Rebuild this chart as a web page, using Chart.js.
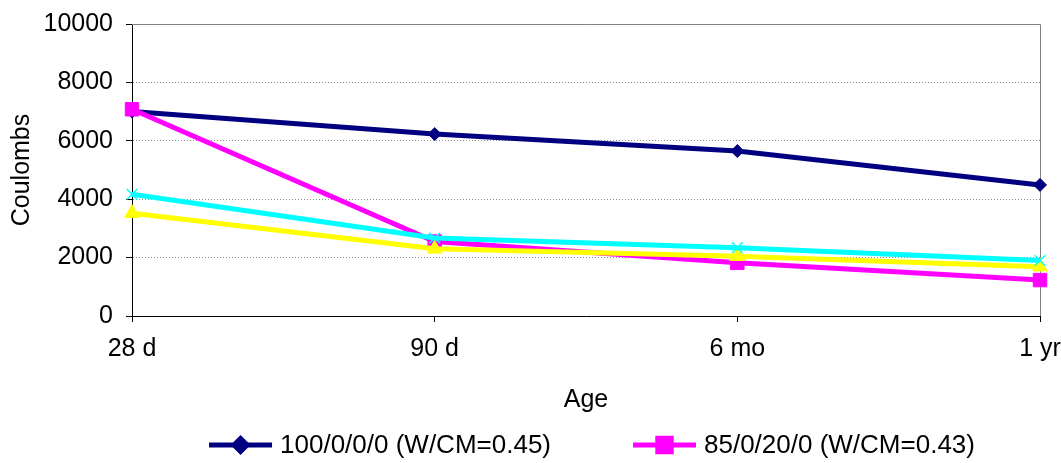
<!DOCTYPE html>
<html>
<head>
<meta charset="utf-8">
<script src="https://cdn.jsdelivr.net/npm/chart.js@4"></script>
<style>
    html, body { margin: 0; padding: 0; background: #fff; }
    #wrap { width: 1061px; height: 463px; }
</style>
</head>
<body>
<div id="wrap"><canvas id="chart" width="1061" height="463"></canvas></div>
<script>
// values
const ages = ['28 d', '90 d', '6 mo', '1 yr'];
const mix100 = [7000, 6230, 5650, 4490];   // 100/0/0/0 (W/CM=0.45)
const mix85 = [7080, 2550, 1820, 1230];    // 85/0/20/0 (W/CM=0.43)
const mix3 = [3520, 2300, 2050, 1690];     // yellow series, legend cut off
const mix4 = [4170, 2670, 2340, 1900];     // cyan series, legend cut off
const yTicks = [0, 2000, 4000, 6000, 8000, 10000];

const FONT = "'Liberation Sans', Arial, sans-serif";

// gray frame on top and right of the plot area
const frame = {
    id: 'frame',
    beforeDatasetsDraw(chart) {
        const { ctx, chartArea: a } = chart;
        ctx.save();
        ctx.strokeStyle = '#808080';
        ctx.lineWidth = 1;
        ctx.beginPath();
        ctx.moveTo(a.left, a.top + 0.5);
        ctx.lineTo(a.right + 0.5, a.top + 0.5);
        ctx.lineTo(a.right + 0.5, a.bottom);
        ctx.stroke();
        ctx.restore();
    }
};

// excel style legend: line with marker in the middle
const lineLegend = {
    id: 'lineLegend',
    afterDraw(chart) {
        const { ctx, chartArea: a } = chart;
        const items = chart.data.datasets.filter(d => d.inLegend);
        const lineLen = 63, textGap = 8, itemGap = 82;
        ctx.save();
        ctx.font = '26px ' + FONT;
        ctx.textBaseline = 'middle';
        const widths = items.map(d => ctx.measureText(d.label).width);
        let total = 0;
        widths.forEach((w, i) => { total += lineLen + textGap + w + (i ? itemGap : 0); });
        let x = (a.left + a.right) / 2 - total / 2 + 6;
        const y = 445;
        items.forEach((d, i) => {
            ctx.strokeStyle = d.borderColor;
            ctx.lineWidth = d.borderWidth;
            ctx.beginPath();
            ctx.moveTo(x, y);
            ctx.lineTo(x + lineLen, y);
            ctx.stroke();
            ctx.fillStyle = d.pointBackgroundColor;
            ctx.strokeStyle = d.pointBorderColor;
            Chart.helpers.drawPoint(ctx, {
                pointStyle: d.pointStyle, radius: d.pointRadius,
                rotation: 0, borderWidth: d.pointBorderWidth
            }, x + lineLen / 2, y);
            ctx.fillStyle = '#000';
            ctx.fillText(d.label, x + lineLen + textGap, y + 1);
            x += lineLen + textGap + widths[i] + itemGap;
        });
        ctx.restore();
    }
};

function series(label, data, color, style, radius, order, inLegend) {
    return {
        label: label,
        data: data,
        borderColor: color,
        backgroundColor: color,
        borderWidth: 5,
        pointStyle: style,
        pointRadius: radius,
        pointHoverRadius: radius,
        pointBackgroundColor: color,
        pointBorderColor: color,
        pointBorderWidth: style === 'crossRot' ? 1.5 : 1,
        tension: 0,
        clip: false,
        order: order,
        inLegend: inLegend
    };
}

new Chart(document.getElementById('chart'), {
    type: 'line',
    data: {
        labels: ages,
        datasets: [
            series('100/0/0/0 (W/CM=0.45)', mix100, '#000080', 'rectRot', 6.5, 4, true),
            series('85/0/20/0 (W/CM=0.43)', mix85, '#FF00FF', 'rect', 9.5, 3, true),
            series('Series 3', mix3, '#FFFF00', 'triangle', 8.5, 2, false),
            series('Series 4', mix4, '#00FFFF', 'crossRot', 7.5, 1, false)
        ]
    },
    options: {
        responsive: false,
        animation: false,
        devicePixelRatio: 1,
        layout: { padding: { left: 0, right: 21, top: 24, bottom: 47 } },
        plugins: {
            legend: { display: false },
            tooltip: { enabled: false }
        },
        scales: {
            x: {
                offset: false,
                grid: { drawOnChartArea: false, drawTicks: true, tickLength: 6, tickColor: '#000' },
                border: { color: '#000', width: 1 },
                ticks: { color: '#000', font: { family: FONT, size: 25 }, padding: 12, maxRotation: 0 },
                title: { display: true, text: 'Age', color: '#000', font: { family: FONT, size: 25 }, padding: { top: 0, bottom: 1 } },
                afterFit(scale) {
                    scale.height = 100;
                    scale.paddingLeft = 0;
                    scale.paddingRight = 0;
                }
            },
            y: {
                min: 0,
                max: 10000,
                afterBuildTicks(scale) { scale.ticks = yTicks.map(v => ({ value: v })); },
                grid: {
                    color: ctx => (ctx.tick && (ctx.tick.value === 0 || ctx.tick.value === 10000)) ? 'rgba(0,0,0,0)' : '#8c8c8c',
                    lineWidth: 1,
                    drawTicks: true,
                    tickLength: 6,
                    tickColor: '#000',
                    tickBorderDash: []
                },
                // in v4 border.dash styles the grid lines, the axis line stays solid
                border: { color: '#000', width: 1, dash: [1, 2] },
                ticks: { color: '#000', font: { family: FONT, size: 25 }, padding: 13, callback: v => String(v) },
                title: { display: true, text: 'Coulombs', color: '#000', font: { family: FONT, size: 25 }, padding: { top: 7, bottom: 0 } },
                afterFit(scale) {
                    scale.width = 132;
                    scale.paddingTop = 0;
                    scale.paddingBottom = 0;
                }
            }
        }
    },
    plugins: [frame, lineLegend]
});
</script>
</body>
</html>
